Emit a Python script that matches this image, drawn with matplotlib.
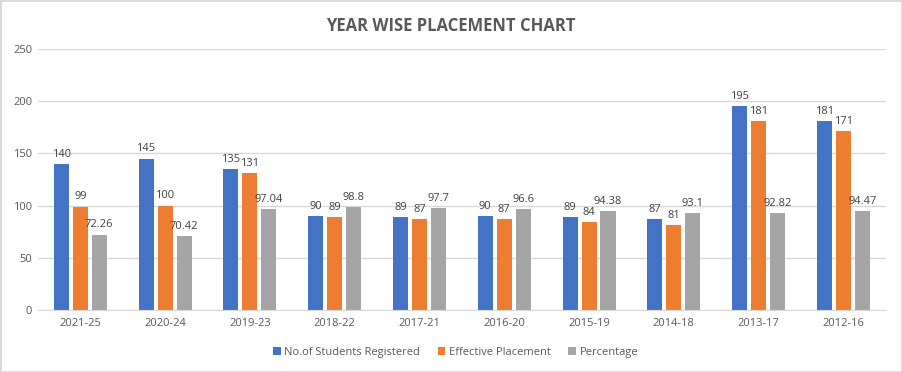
import matplotlib.pyplot as plt
import numpy as np
from matplotlib.patches import Rectangle

years = ["2021-25", "2020-24", "2019-23", "2018-22", "2017-21",
         "2016-20", "2015-19", "2014-18", "2013-17", "2012-16"]
registered = [140, 145, 135, 90, 89, 90, 89, 87, 195, 181]
placed = [99, 100, 131, 89, 87, 87, 84, 81, 181, 171]
percentage = [72.26, 70.42, 97.04, 98.8, 97.7, 96.6, 94.38, 93.1, 92.82, 94.47]

plt.rcParams['font.family'] = ['Open Sans', 'DejaVu Sans']

fig = plt.figure(figsize=(9.02, 3.72), dpi=100)
ax = fig.add_axes([0.042, 0.1667, 0.940, 0.7016])

x = np.arange(len(years))
w = 0.177
off = 0.224
series = [(registered, "No.of Students Registered", "#4472C4", -off),
          (placed, "Effective Placement", "#ED7D31", 0),
          (percentage, "Percentage", "#A5A5A5", off)]

for vals, name, col, dx in series:
    bars = ax.bar(x + dx, vals, width=w, color=col, label=name, zorder=2)
    for b, v in zip(bars, vals):
        ax.text(b.get_x() + b.get_width() / 2, v + 4, f"{v:g}",
                ha="center", va="bottom", fontsize=8, color="#404040")

ax.set_xlim(-0.5, len(years) - 0.5)
ax.set_ylim(0, 250)
ax.set_yticks(range(0, 251, 50))
ax.set_xticks(x)
ax.set_xticklabels(years)
ax.grid(axis="y", color="#D9D9D9", linewidth=1, zorder=0)
for s in ["top", "right", "left"]:
    ax.spines[s].set_visible(False)
ax.spines["bottom"].set_color("#D9D9D9")
ax.tick_params(axis="both", length=0, labelsize=8, colors="#595959")
ax.tick_params(axis="x", pad=6)
ax.tick_params(axis="y", pad=4)

fig.suptitle("YEAR WISE PLACEMENT CHART", y=0.955, fontsize=12,
             fontweight="bold", color="#595959")

fig.legend(loc="center", bbox_to_anchor=(0.505, 0.053), ncol=3, frameon=False,
           fontsize=8, handlelength=0.7, handleheight=0.7, handletextpad=0.3,
           columnspacing=1.6, labelcolor="#595959")

fig.patches.append(Rectangle((0, 0), 1, 1, transform=fig.transFigure,
                             fill=False, edgecolor="#D9D9D9", linewidth=2))

fig.savefig("out.png", dpi=100)
